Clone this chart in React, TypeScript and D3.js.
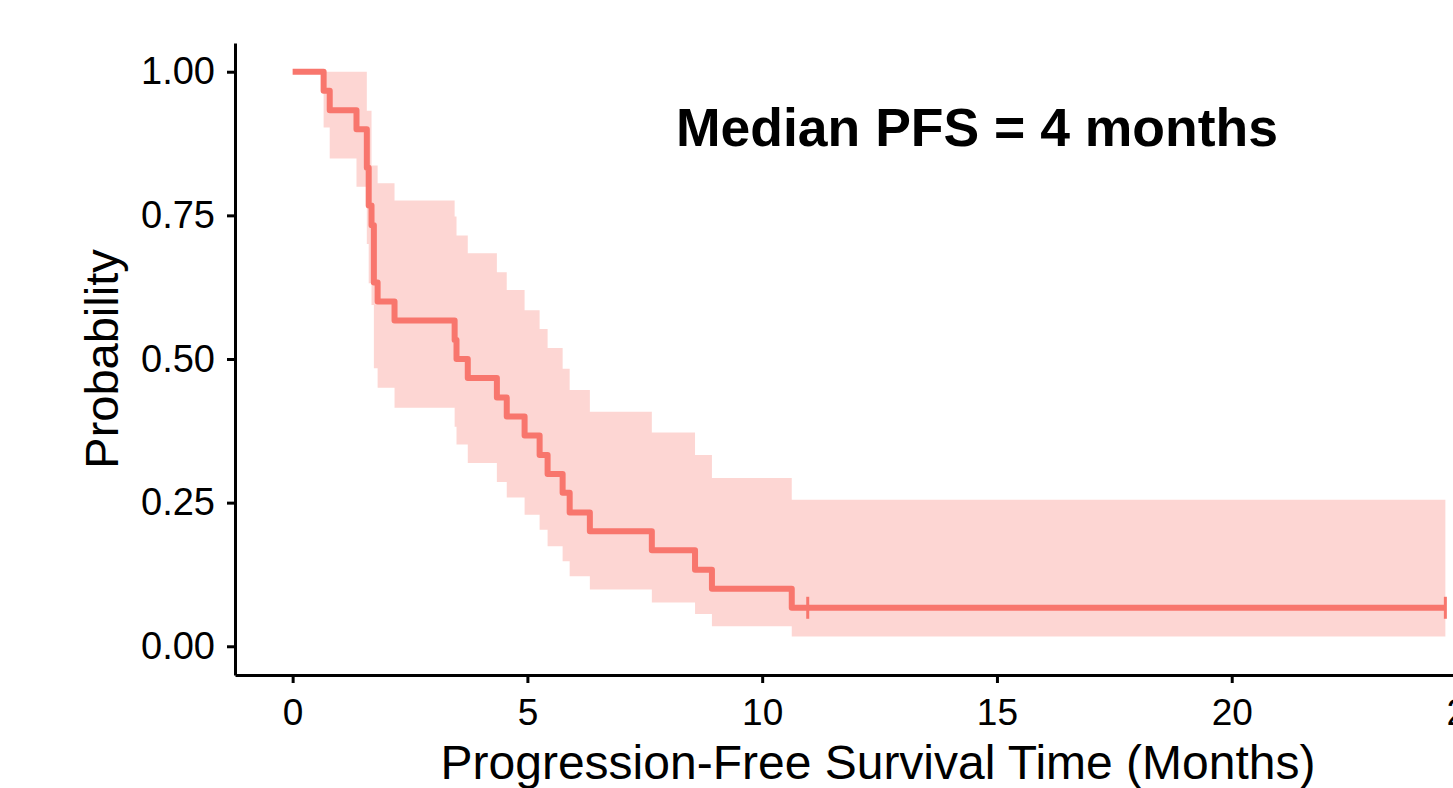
import * as d3 from "d3";
import React, { useEffect, useRef } from "react";

// Kaplan-Meier steps (months)
const times = [0, 0.66, 0.79, 1.36, 1.58, 1.62, 1.68, 1.73, 1.81, 2.17, 3.45, 3.49, 3.73, 4.35, 4.56, 4.94, 5.26, 5.43, 5.75, 5.9, 6.33, 7.65, 8.57, 8.93, 10.63];
const surv = [1, 0.967, 0.933, 0.9, 0.833, 0.767, 0.733, 0.633, 0.6, 0.567, 0.533, 0.5, 0.467, 0.433, 0.4, 0.367, 0.333, 0.3, 0.267, 0.233, 0.2, 0.167, 0.133, 0.1, 0.067];
const upper = [1, 1, 1, 1, 0.932, 0.932, 0.837, 0.837, 0.806, 0.776, 0.748, 0.715, 0.684, 0.651, 0.62, 0.585, 0.552, 0.519, 0.483, 0.446, 0.408, 0.372, 0.333, 0.293, 0.255];
const lower = [1, 0.903, 0.849, 0.8, 0.7, 0.632, 0.594, 0.484, 0.45, 0.415, 0.382, 0.351, 0.319, 0.286, 0.259, 0.229, 0.203, 0.174, 0.148, 0.122, 0.099, 0.076, 0.056, 0.035, 0.017];
const censorTimes = [10.97, 24.55];
const endTime = 24.55;

const xTicks = [0, 5, 10, 15, 20, 25];
const yTicks = [0, 0.25, 0.5, 0.75, 1];
const yTickLabels = ["0.00", "0.25", "0.50", "0.75", "1.00"];

const COLOR = "#F8766D";
const FONT = "'Liberation Sans', Arial, Helvetica, sans-serif";

function SurvivalChart() {
  const node = useRef<SVGSVGElement | null>(null);

  useEffect(() => {
    const svg = d3.select(node.current);
    svg.selectAll("*").remove(); // clear before drawing

    const width = 1453;
    const height = 788;
    const plot = { left: 235, right: 1503, top: 43, bottom: 675 };

    // ggplot-like 5% expansion on both axes
    const x = d3.scaleLinear()
        .domain([-0.05 * endTime, 1.05 * endTime])
        .range([plot.left, plot.right]);
    const y = d3.scaleLinear()
        .domain([-0.05, 1.05])
        .range([plot.bottom, plot.top]);

    svg.attr("width", width).attr("height", height);

    const steps = times.map((t, i) => ({ t, s: surv[i], hi: upper[i], lo: lower[i] }));
    const last = steps[steps.length - 1];
    const full = [...steps, { ...last, t: endTime }];

    // confidence band
    const band = d3.area<any>()
        .x(d => x(d.t))
        .y0(d => y(d.lo))
        .y1(d => y(d.hi))
        .curve(d3.curveStepAfter);
    svg.append("path")
        .datum(full)
        .attr("d", band)
        .attr("fill", COLOR)
        .attr("fill-opacity", 0.3);

    // survival curve
    const line = d3.line<any>()
        .x(d => x(d.t))
        .y(d => y(d.s))
        .curve(d3.curveStepAfter);
    svg.append("path")
        .datum(full)
        .attr("d", line)
        .attr("fill", "none")
        .attr("stroke", COLOR)
        .attr("stroke-width", 6)
        .attr("stroke-linejoin", "round");

    // censor marks
    svg.append("g")
        .selectAll("line")
        .data(censorTimes)
        .join("line")
        .attr("x1", d => x(d)).attr("x2", d => x(d))
        .attr("y1", y(last.s) - 11).attr("y2", y(last.s) + 11)
        .attr("stroke", COLOR)
        .attr("stroke-width", 3);

    const xAxis = (g: any) => g
        .attr("transform", `translate(0,${plot.bottom})`)
        .call(d3.axisBottom(x).tickValues(xTicks).tickSize(8).tickSizeOuter(0).tickPadding(16))
        .call((g: any) => g.selectAll("text").attr("fill", "#000").style("font-size", "37px"));

    const yAxis = (g: any) => g
        .attr("transform", `translate(${plot.left},0)`)
        .call(d3.axisLeft(y).tickValues(yTicks).tickFormat((d: any, i: number) => yTickLabels[i]).tickSize(8).tickSizeOuter(0).tickPadding(12))
        .call((g: any) => g.selectAll("text").attr("fill", "#000").style("font-size", "38px"));

    for (const ax of [xAxis, yAxis]) {
      svg.append("g")
          .call(ax)
          .style("font-family", FONT)
          .call((g: any) => g.selectAll("line,path").attr("stroke", "#000").attr("stroke-width", 3));
    }

    // axis titles
    svg.append("text")
        .attr("x", 878).attr("y", 779)
        .attr("text-anchor", "middle")
        .style("font-family", FONT).style("font-size", "48px")
        .text("Progression-Free Survival Time (Months)");

    svg.append("text")
        .attr("transform", `translate(118,${y(0.5)}) rotate(-90)`)
        .attr("text-anchor", "middle")
        .style("font-family", FONT).style("font-size", "47px")
        .text("Probability");

    svg.append("text")
        .attr("x", 977).attr("y", 146)
        .attr("text-anchor", "middle")
        .style("font-family", FONT).style("font-size", "53.5px").style("font-weight", "bold")
        .text("Median PFS = 4 months");
  }, []);

  return <svg ref={node} style={{ position: "absolute", left: 0, top: 0, background: "#fff" }} />;
}

export default function App() {
  return <SurvivalChart />;
}
